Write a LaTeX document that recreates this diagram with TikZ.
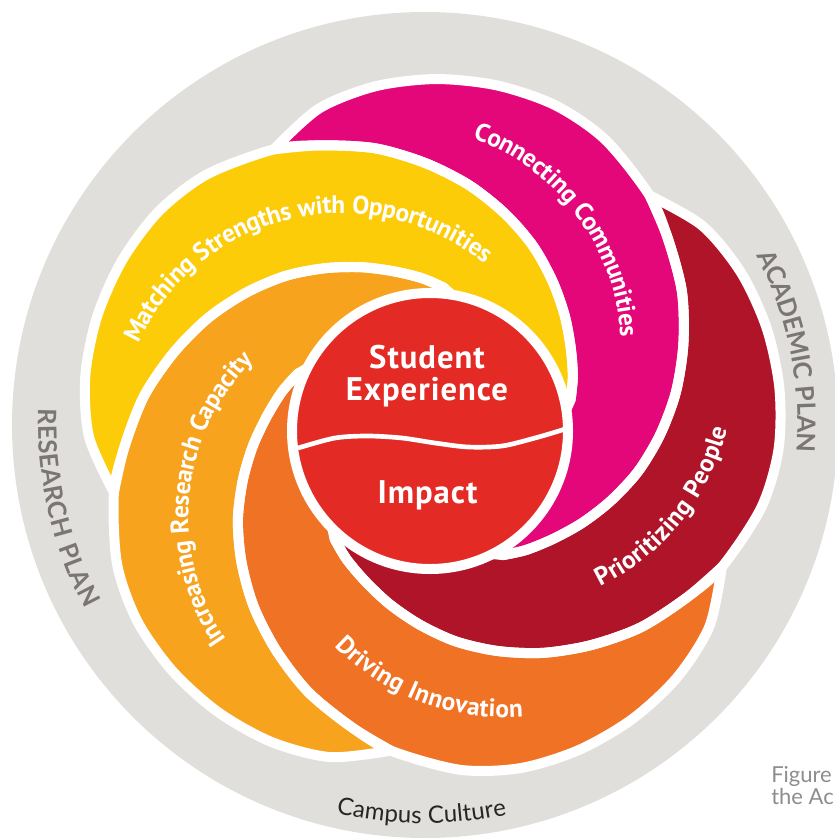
\documentclass[tikz,border=0pt]{standalone}
\usepackage{fontspec}
\setmainfont{PT Sans}
\newfontfamily\ptsans{PT Sans}[LetterSpace=3]
\newfontfamily\latofont{Lato}
\newfontfamily\latowide{Lato}[LetterSpace=5]
\usetikzlibrary{decorations.text}
\definecolor{cgray}{HTML}{E1DFDB}
\definecolor{cyellow}{HTML}{FDCC08}
\definecolor{clo}{HTML}{F8A31E}
\definecolor{corange}{HTML}{F07224}
\definecolor{cdred}{HTML}{AF1429}
\definecolor{cmag}{HTML}{E3077A}
\definecolor{cred}{HTML}{E42A25}
\definecolor{ctxt}{HTML}{7A7673}
\definecolor{cfig}{HTML}{8D8D8D}
% outer spiral edge of a petal (polar, around the core centre)
\newcommand\fwd[1]{plot[smooth] coordinates {({#1}:322) ({#1+10}:341) ({#1+20}:349) ({#1+30}:352) ({#1+40}:352) ({#1+50}:349) ({#1+60}:340) ({#1+72}:322) ({#1+80}:306) ({#1+90}:288) ({#1+100}:268) ({#1+110}:249) ({#1+120}:230) ({#1+130}:212) ({#1+140}:194) ({#1+150}:178) ({#1+160}:164) ({#1+170}:153) ({#1+178.5}:144)}}
\newcommand\bwd[1]{-- plot[smooth] coordinates {({#1+178.5}:144) ({#1+170}:153) ({#1+160}:164) ({#1+150}:178) ({#1+140}:194) ({#1+130}:212) ({#1+120}:230) ({#1+110}:249) ({#1+100}:268) ({#1+90}:288) ({#1+80}:306) ({#1+72}:322)}}
\newcommand\petalpath[2]{\fwd{#1} \bwd{#2} -- cycle}
\newcommand\lblfont{\ptsans\bfseries\fontsize{19pt}{19pt}\selectfont\color{white}}
\newcommand\ringfont{\latowide\bfseries\fontsize{19pt}{19pt}\selectfont\color{ctxt}}
\newcommand\culturefont{\latofont\fontsize{18pt}{18pt}\selectfont\color{black!85}}
\tikzset{
  petalline/.style={draw=white, line width=7.5pt, line join=round},
  lbl/.style={decorate, decoration={text along path, text align=center, raise=-5.8pt, text={|\lblfont|#1}}},
  ringlbl/.style={decorate, decoration={text along path, text align=center, raise=-7pt, text={|\ringfont|#1}}},
  culturelbl/.style={decorate, decoration={text along path, text align=center, raise=-5.5pt, text={|\culturefont|#1}}},
  ctext/.style={text=white, font=\ptsans\bfseries\fontsize{24.5pt}{25pt}\selectfont, inner sep=0pt},
  figtext/.style={text=cfig, font=\latofont\fontsize{16.5pt}{17pt}\selectfont, inner sep=0pt, anchor=base west}
}
\begin{document}
\begin{tikzpicture}[x=0.75pt, y=-0.75pt,
  declare function={uu(\p)=(\p-80)/40; midr(\p)=241.66-66.4*uu(\p)+0.375*uu(\p)*uu(\p)+7.583*uu(\p)*uu(\p)*uu(\p);}]
\useasboundingbox (0,0) rectangle (835,839);
\clip (0,0) rectangle (835,839);
% outer grey disc
\fill[cgray] (425,425) circle[radius=413];
\begin{scope}[shift={(430,431)}]
  % petal fills
  \fill[cyellow] \petalpath{169}{97};
  \fill[cmag]    \petalpath{241}{169};
  \fill[cdred]   \petalpath{313}{241};
  \fill[corange] \petalpath{385}{313};
  \fill[clo]     \petalpath{457}{385};
  % white outlines
  \path[petalline] \petalpath{169}{97};
  \path[petalline] \petalpath{241}{169};
  \path[petalline] \petalpath{313}{241};
  \path[petalline] \petalpath{385}{313};
  \path[petalline] \petalpath{457}{385};
  % core circle
  \node[circle, fill=cred, draw=white, line width=7.5pt, minimum size=207pt, inner sep=0pt] (core) at (0,0) {};
  % petal labels along the mid-lines of the petals
  \path[lbl={Matching Strengths with Opportunities}] plot[domain=22:130, samples=60, variable=\p] ({169+\p}:{midr(\p)});
  \path[lbl={Connecting Communities}] plot[domain=32:101, samples=50, variable=\p] ({241+\p}:{midr(\p)});
  \path[lbl={Prioritizing People}] plot[domain=94:42, samples=40, variable=\p] ({313+\p}:{midr(\p)-4});
  \path[lbl={Driving Innovation}] plot[domain=94:42, samples=40, variable=\p] ({25+\p}:{midr(\p)});
  \path[lbl={Increasing Research Capacity}] plot[domain=32:114, samples=50, variable=\p] ({97+\p}:{midr(\p)-4});
\end{scope}
% dividing line of the core
\begin{scope}
  \clip (core.center) circle[radius=133];
  \draw[white, line width=3.5pt] plot[smooth] coordinates {(285,452) (298,448) (335,438) (368,436) (402,438) (435,443) (468,447) (502,446) (535,438) (562,430) (575,425)};
\end{scope}
\node[ctext, anchor=base] (student) at (427,368) {Student};
\node[ctext, anchor=base] (experience) at (427,400) {Experience};
\node[ctext, anchor=base] (impact) at (427.5,503) {Impact};
% ring labels
\begin{scope}[shift={(425,425)}]
  \path[ringlbl={ACADEMIC PLAN}] plot[domain=-38:15, samples=40, variable=\t] (\t:382);
  \path[ringlbl={RESEARCH PLAN}] plot[domain=190:144, samples=40, variable=\t] (\t:377);
  \path[culturelbl={Campus Culture}] plot[domain=110:71, samples=40, variable=\t] (\t:391);
\end{scope}
\node[figtext] (fig1) at (771,782) {Figure};
\node[figtext] (fig2) at (771,804) {the Ac};
\end{tikzpicture}
\end{document}
